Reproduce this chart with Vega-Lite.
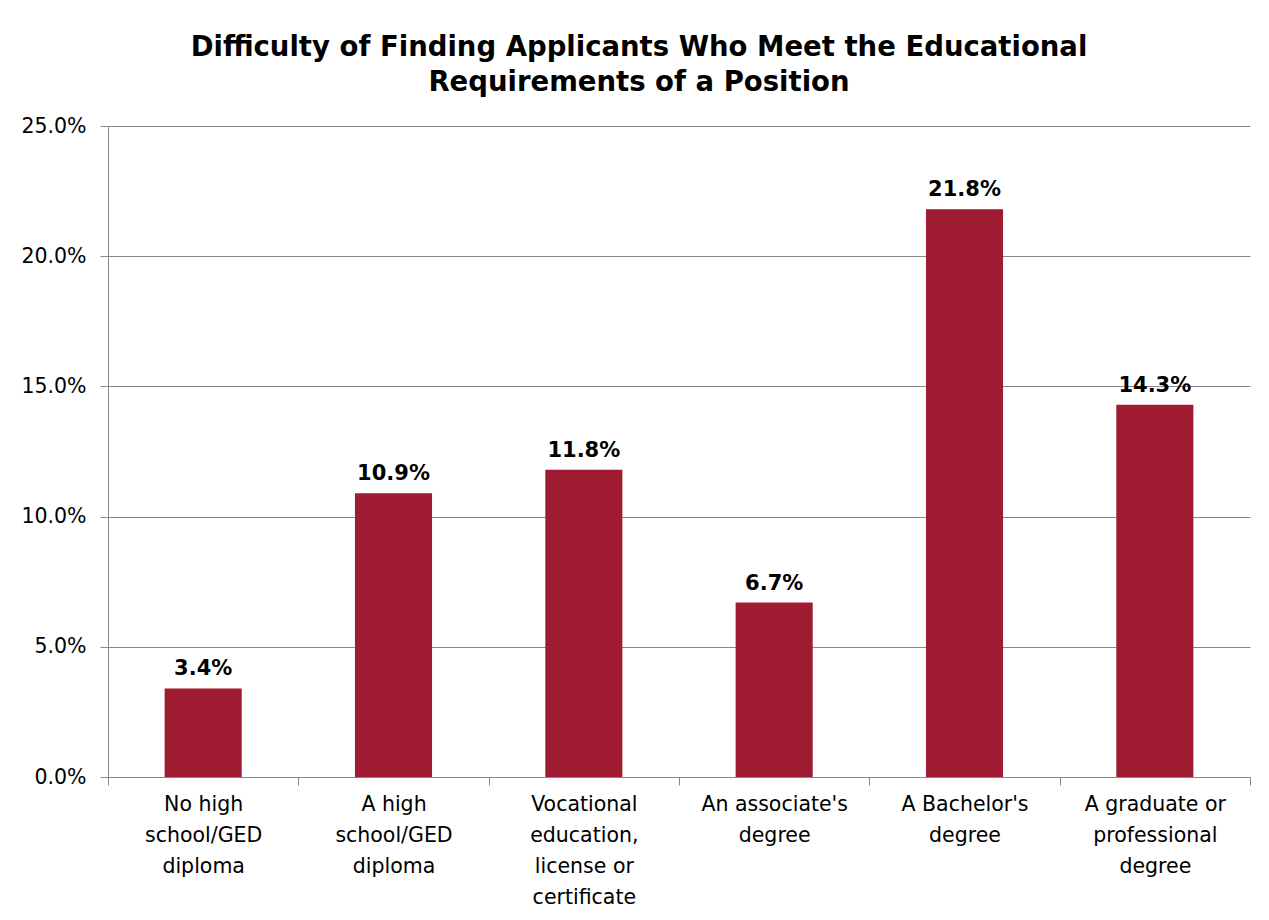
{
  "$schema": "https://vega.github.io/schema/vega-lite/v6.json",
  "width": 1142,
  "height": 651,
  "autosize": {"type": "none"},
  "padding": {"left": 108, "top": 126, "right": 19, "bottom": 143},
  "background": "white",
  "title": {
    "text": ["Difficulty of Finding Applicants Who Meet the Educational", "Requirements of a Position"],
    "fontSize": 27.5,
    "font": "DejaVu Sans",
    "fontWeight": "bold",
    "color": "#000000",
    "anchor": "middle",
    "dx": -40,
    "lineHeight": 35,
    "offset": 20
  },
  "config": {
    "view": {"stroke": null},
    "font": "DejaVu Sans"
  },
  "data": {
    "values": [
      {"category": "No high\nschool/GED\ndiploma", "value": 0.034},
      {"category": "A high\nschool/GED\ndiploma", "value": 0.109},
      {"category": "Vocational\neducation,\nlicense or\ncertificate", "value": 0.118},
      {"category": "An associate's\ndegree", "value": 0.067},
      {"category": "A Bachelor's\ndegree", "value": 0.218},
      {"category": "A graduate or\nprofessional\ndegree", "value": 0.143}
    ]
  },
  "encoding": {
    "x": {
      "field": "category",
      "type": "nominal",
      "sort": null,
      "scale": {"paddingInner": 0, "paddingOuter": 0},
      "axis": {
        "title": null,
        "labelAngle": 0,
        "labelExpr": "isValid(datum.value) ? split(datum.value, '\\n') : ''",
        "labelFontSize": 20.5,
        "labelColor": "#000000",
        "labelLineHeight": 31,
        "labelPadding": 9,
        "labelBaseline": "top",
        "tickBand": "extent",
        "tickSize": 8,
        "tickColor": "#888888",
        "domainColor": "#888888",
        "labelLimit": 300
      }
    },
    "y": {
      "field": "value",
      "type": "quantitative",
      "scale": {"domain": [0, 0.25]},
      "axis": {
        "title": null,
        "format": ".1%",
        "values": [0, 0.05, 0.1, 0.15, 0.2, 0.25],
        "labelFontSize": 20.5,
        "labelColor": "#000000",
        "labelPadding": 14,
        "tickSize": 8,
        "tickColor": "#888888",
        "domainColor": "#888888",
        "gridColor": "#888888",
        "gridOpacity": 1
      }
    }
  },
  "layer": [
    {
      "mark": {"type": "bar", "color": "#9E1B32", "width": {"band": 0.405}}
    },
    {
      "mark": {"type": "text", "baseline": "bottom", "dy": -9, "fontSize": 21, "fontWeight": "bold", "color": "#000000"},
      "encoding": {
        "text": {"field": "value", "type": "quantitative", "format": ".1%"}
      }
    }
  ]
}
